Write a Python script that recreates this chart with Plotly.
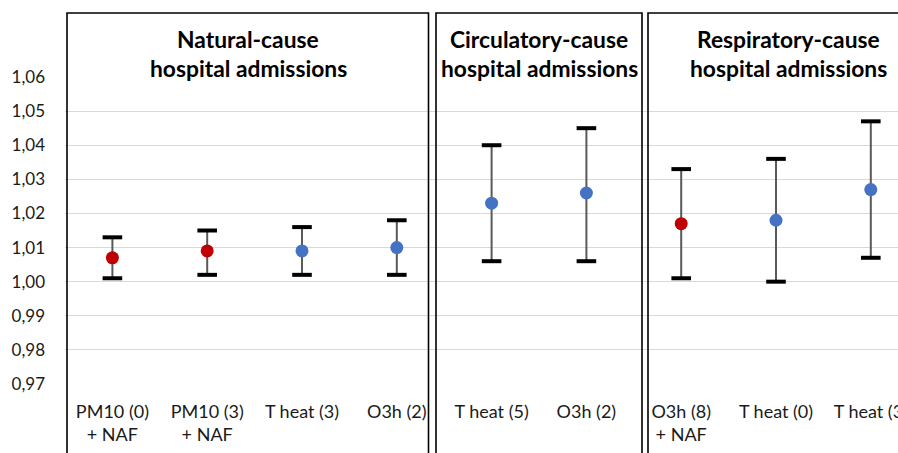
import plotly.graph_objects as go

# ---------------- data ----------------
categories = ["PM10 (0)<br>+ NAF", "PM10 (3)<br>+ NAF", "T heat (3)", "O3h (2)",
              "T heat (5)", "O3h (2)",
              "O3h (8)<br>+ NAF", "T heat (0)", "T heat (3)"]
estimate = [1.007, 1.009, 1.009, 1.010, 1.023, 1.026, 1.017, 1.018, 1.027]
lower = [1.001, 1.002, 1.002, 1.002, 1.006, 1.006, 1.001, 1.000, 1.007]
upper = [1.013, 1.015, 1.016, 1.018, 1.040, 1.045, 1.033, 1.036, 1.047]
with_naf = [True, True, False, False, False, False, True, False, False]
panel_titles = [["Natural-cause", "hospital admissions"],
                ["Circulatory-cause", "hospital admissions"],
                ["Respiratory-cause", "hospital admissions"]]
y_ticks = [0.97, 0.98, 0.99, 1.00, 1.01, 1.02, 1.03, 1.04, 1.05, 1.06]

# ---------------- layout constants ----------------
W, H = 898, 453
ML, MR, MT, MB = 65, 0, 77, 69
PW = W - ML - MR
PH = H - MT - MB
CAT_W = 94.8
FONT = "Lato"
RED, BLUE = "#C00000", "#4472C4"
TXT = "#1a1a1a"

def px_x(p):
    return (p - ML) / PW

def px_y(p):
    return (H - MB - p) / PH

x = list(range(len(categories)))
colors = [RED if n else BLUE for n in with_naf]

fig = go.Figure()
# stems
fig.add_trace(go.Scatter(
    x=x, y=estimate, mode="markers",
    marker=dict(size=1, color="rgba(0,0,0,0)"),
    error_y=dict(type="data", symmetric=False,
                 array=[u - e for u, e in zip(upper, estimate)],
                 arrayminus=[e - l for e, l in zip(estimate, lower)],
                 thickness=2, width=0, color="#595959"),
    showlegend=False, hoverinfo="skip"))
# caps
fig.add_trace(go.Scatter(
    x=x + x, y=upper + lower, mode="markers",
    marker=dict(symbol="line-ew", size=14, line=dict(width=4, color="black")),
    showlegend=False, hoverinfo="skip"))
# point estimates
fig.add_trace(go.Scatter(
    x=x, y=estimate, mode="markers",
    marker=dict(size=13, color=colors, line=dict(width=0)),
    showlegend=False))

# panel boxes (pixel positions)
boxes = [(67, 428.5), (436, 642), (648, 960)]
title_centers = [248, 539, 788]
shapes = []
for (a, b) in boxes:
    shapes.append(dict(type="rect", xref="paper", yref="paper",
                       x0=px_x(a + 1.5), x1=px_x(b - 1.5), y0=px_y(95), y1=px_y(14.5),
                       fillcolor="white", line=dict(width=0), layer="above"))
for (a, b) in boxes:
    shapes.append(dict(type="rect", xref="paper", yref="paper",
                       x0=px_x(a), x1=px_x(b), y0=px_y(13), y1=px_y(520),
                       line=dict(color="black", width=1.6), layer="above"))

annotations = []
for (l1, l2), c in zip(panel_titles, title_centers):
    for txt, py in ((l1, 39), (l2, 68)):
        annotations.append(dict(text="<b>%s</b>" % txt, xref="paper", yref="paper",
                                x=px_x(c), y=px_y(py), xanchor="center", yanchor="middle",
                                showarrow=False,
                                font=dict(family=FONT, size=22.8, color="black")))

fig.update_layout(
    width=W, height=H,
    margin=dict(l=ML, r=MR, t=MT, b=MB, autoexpand=False),
    paper_bgcolor="white", plot_bgcolor="white",
    separators=", ",
    shapes=shapes, annotations=annotations,
    font=dict(family=FONT, size=18, color=TXT),
    xaxis=dict(range=[-0.5, -0.5 + PW / CAT_W], tickmode="array", tickvals=x,
               ticktext=categories, showgrid=False, zeroline=False, showline=False,
               ticks="", ticklabelstandoff=15, ticklabeloverflow="allow",
               automargin=False,
               tickfont=dict(family=FONT, size=18, color=TXT)),
    yaxis=dict(range=[0.97, 1.06], tickmode="array", tickvals=y_ticks,
               tickformat=".2f", showgrid=True, gridcolor="#D9D9D9", gridwidth=1,
               zeroline=False, showline=False, ticks="", ticklabelstandoff=19,
               automargin=False,
               tickfont=dict(family=FONT, size=17, color=TXT)),
)

fig.write_html(
    "out.html",
    config={"displayModeBar": False},
    post_script="document.body.style.margin='0';document.body.style.overflow='hidden';",
)
